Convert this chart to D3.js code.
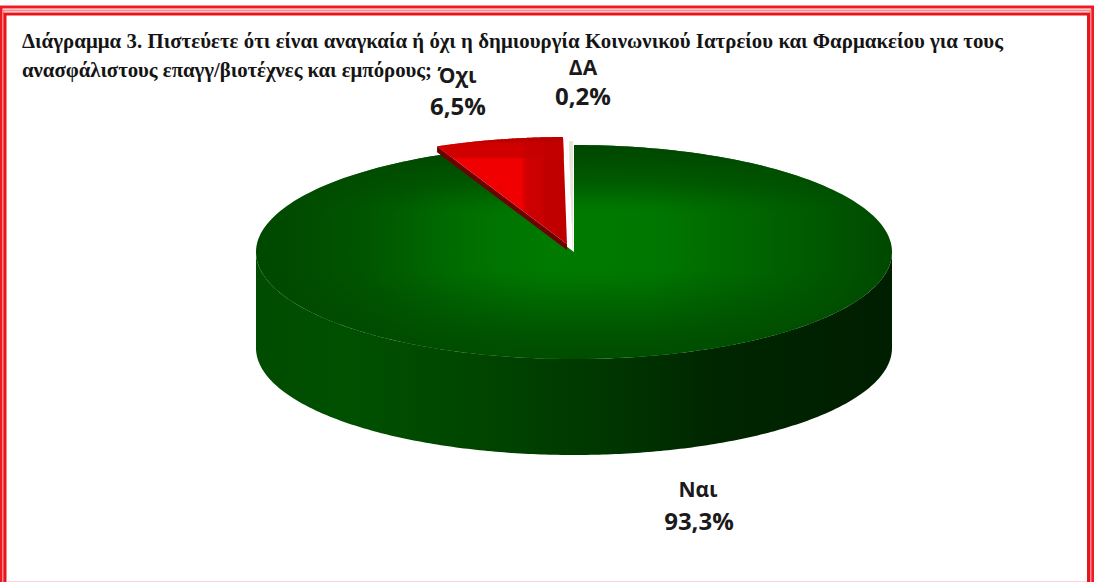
<!DOCTYPE html>
<html lang="el">
<head>
<meta charset="utf-8">
<title>Διάγραμμα 3</title>
<script src="https://cdn.jsdelivr.net/npm/d3@7"></script>
<style>
  html, body { margin: 0; padding: 0; background: #fff; overflow: hidden; }
  svg { display: block; }
</style>
</head>
<body>
<svg id="chart" width="1094" height="582"></svg>
<script>
// Survey answers, in the order the slices run clockwise from twelve o'clock
const categories = ["Ναι", "Όχι", "ΔΑ"];
const shares = [93.3, 6.5, 0.2];
const shareLabels = ["93,3%", "6,5%", "0,2%"];
const titleLines = [
  "Διάγραμμα 3. Πιστεύετε ότι είναι αναγκαία ή όχι η δημιουργία Κοινωνικού Ιατρείου και Φαρμακείου για τους",
  "ανασφάλιστους επαγγ/βιοτέχνες και εμπόρους;"
];

const svg = d3.select("#chart");
const defs = svg.append("defs");

// Pie geometry: a flattened disc with a visible rim
const cx = 574, cy = 252, rx = 318, ry = 107, depth = 96;
const explode = { "Όχι": [-7, -8], "ΔΑ": [-1, -4] };

const project = t => [cx + rx * Math.sin(t), cy - ry * Math.cos(t)];
const arcPoints = (a0, a1, n = 240) =>
  d3.range(n + 1).map(i => project(a0 + (a1 - a0) * i / n));
const line = d3.line();

const sliceTop = (a0, a1) => line([[cx, cy], ...arcPoints(a0, a1)]) + "Z";

// The rim is only visible across the front half of the disc
function sliceRim(a0, a1) {
  const s = Math.max(a0, Math.PI / 2), e = Math.min(a1, Math.PI * 1.5);
  const pts = arcPoints(s, e);
  const low = pts.map(([x, y]) => [x, y + depth]).reverse();
  return line([...pts, ...low]) + "Z";
}

function gradient(id, x1, y1, x2, y2, stops) {
  const g = defs.append("linearGradient").attr("id", id)
    .attr("gradientUnits", "userSpaceOnUse")
    .attr("x1", x1).attr("y1", y1).attr("x2", x2).attr("y2", y2);
  stops.forEach(([o, c, a = 1]) => g.append("stop")
    .attr("offset", o).attr("stop-color", c).attr("stop-opacity", a));
}

// Shading: sideways light plus a vertical falloff gives the boxy glow of the disc top
gradient("topGreen", cx - rx, 0, cx + rx, 0, [
  [0, "#004800"], [0.07, "#004c00"], [0.16, "#005400"], [0.23, "#005e00"],
  [0.3, "#006a00"], [0.38, "#007400"], [0.46, "#007a00"], [0.62, "#007800"],
  [0.7, "#006e00"], [0.79, "#006400"], [0.89, "#005800"], [1, "#004800"]
]);
gradient("topShade", 0, cy - ry, 0, cy + ry, [
  [0, "#004600", 1], [0.07, "#004800", 0.9], [0.19, "#004800", 0.55], [0.28, "#004800", 0.1], [0.32, "#004800", 0],
  [0.58, "#004800", 0], [0.63, "#004800", 0.1], [0.72, "#004800", 0.35], [0.82, "#004800", 0.6],
  [0.91, "#004800", 0.8], [1, "#004800", 0.9]
]);
gradient("rimGreen", cx - rx, 0, cx + rx, 0, [
  [0, "#004c00"], [0.15, "#005000"], [0.3, "#004800"], [0.45, "#003e00"],
  [0.6, "#003200"], [0.72, "#002600"], [1, "#001e00"]
]);
gradient("topRed", 438, 0, 564, 0, [
  [0, "#f00000"], [0.72, "#f00000"], [0.74, "#d80000"], [0.78, "#cc0000"], [0.88, "#cc0000"], [0.9, "#c00000"], [1, "#c00000"]
]);
gradient("redShade", 0, 137, 0, 245, [
  [0, "#bc0000", 1], [0.12, "#bc0000", 1], [0.13, "#c40000", 0.75], [0.26, "#c40000", 0.7], [0.28, "#c40000", 0], [1, "#c40000", 0]
]);

// Double red frame, cut off by the lower edge of the page
const frameBands = [
  { x0: 1, y0: 7, x1: 1092.5, stroke: "#ee1c22", w: 3 },
  { x0: 3, y0: 10.5, x1: 1090.5, stroke: "#f88a8e", w: 2 },
  { x0: 5, y0: 14, x1: 1088.5, stroke: "#e8141a", w: 3 }
];
svg.append("g").attr("fill", "none").selectAll("rect").data(frameBands).join("rect")
  .attr("x", d => d.x0).attr("y", d => d.y0)
  .attr("width", d => d.x1 - d.x0).attr("height", d => 600 - d.y0)
  .attr("stroke", d => d.stroke).attr("stroke-width", d => d.w);
svg.append("line").attr("x1", 7).attr("x2", 1087).attr("y1", 581.5).attr("y2", 581.5)
  .attr("stroke", "#fbd5d8");

// Slices
const slices = d3.pie().sort(null).value(d => d)(shares);
const chart = svg.append("g");
const bySlice = name => slices[categories.indexOf(name)];

const yes = bySlice("Ναι");
chart.append("path").attr("d", sliceRim(yes.startAngle, yes.endAngle)).attr("fill", "url(#rimGreen)");
chart.append("path").attr("d", sliceTop(yes.startAngle, yes.endAngle)).attr("fill", "url(#topGreen)");
chart.append("path").attr("d", sliceTop(yes.startAngle, yes.endAngle)).attr("fill", "url(#topShade)");

const no = bySlice("Όχι");
const noG = chart.append("g").attr("transform", `translate(${explode["Όχι"]})`);
// Cut face of the pulled-out slice along its left edge
const noEdge = project(no.startAngle);
noG.append("path")
  .attr("d", line([[cx, cy], noEdge, [noEdge[0], noEdge[1] + 6], [cx, cy + 6]]) + "Z")
  .attr("fill", "#6e0000");
noG.append("path").attr("d", sliceTop(no.startAngle, no.endAngle)).attr("fill", "url(#topRed)");
noG.append("path").attr("d", sliceTop(no.startAngle, no.endAngle)).attr("fill", "url(#redShade)");

const dk = bySlice("ΔΑ");
const dkG = chart.append("g").attr("transform", `translate(${explode["ΔΑ"]})`);
const dkEdge = project(dk.startAngle);
dkG.append("path")
  .attr("d", line([[cx, cy], dkEdge, [dkEdge[0], dkEdge[1] + 4], [cx, cy + 4]]) + "Z")
  .attr("fill", "#8a8a86");
dkG.append("path").attr("d", sliceTop(dk.startAngle, dk.endAngle))
  .attr("fill", "#e8e4d8");

// Title, with each line fitted to its measure
const titleWidths = [981, 410];
const title = svg.append("g")
  .attr("font-family", "'Liberation Serif', serif")
  .attr("font-weight", "bold").attr("font-size", 20.8).attr("fill", "#141414");
title.selectAll("text").data(titleLines).join("text")
  .attr("x", 22).attr("y", (d, i) => 48 + i * 29)
  .attr("textLength", (d, i) => titleWidths[i])
  .text(d => d);

// Slice labels: centre and baseline of the name, then of the share
const nameAnchors = [[698, 497], [457, 83], [583, 75]];
const shareAnchors = [[699, 530], [458, 115], [583, 105]];
const labels = svg.append("g")
  .attr("font-family", "'Open Sans', sans-serif")
  .attr("font-weight", "bold").attr("fill", "#1a1a1a")
  .attr("text-anchor", "middle");
categories.forEach((name, i) => {
  labels.append("text").attr("font-size", 21)
    .attr("x", nameAnchors[i][0]).attr("y", nameAnchors[i][1]).text(name);
  labels.append("text").attr("font-size", 24)
    .attr("x", shareAnchors[i][0]).attr("y", shareAnchors[i][1]).text(shareLabels[i]);
});
</script>
</body>
</html>
